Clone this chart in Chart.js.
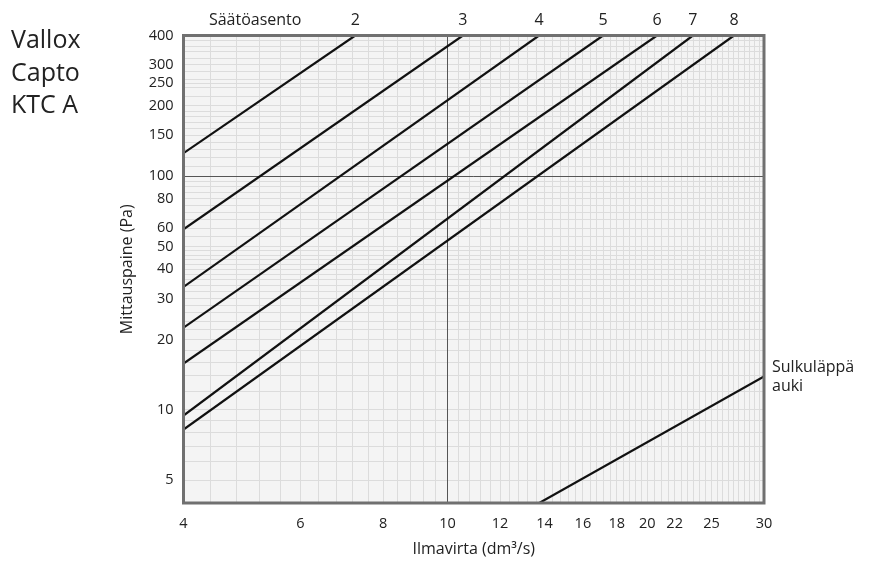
<!DOCTYPE html>
<html>
<head>
<meta charset="utf-8">
<script src="https://cdn.jsdelivr.net/npm/chart.js@4.4.1/dist/chart.umd.min.js"></script>
<style>
  html, body { margin: 0; padding: 0; background: #fff; }
</style>
</head>
<body>
<canvas id="chart" width="871" height="561"></canvas>
<script>
// ── data ──
const settingNames = ['2', '3', '4', '5', '6', '7', '8'];
const pressureAtFlow4 = [125.5, 59.3, 33.6, 22.5, 15.8, 9.46, 8.25];   // Pa at 4 dm3/s
const flowAtPressure400 = [7.26, 10.55, 13.74, 17.16, 20.69, 23.44, 27.03]; // dm3/s at 400 Pa
const damperFlow = [13.75, 30];
const damperPressure = [4, 13.9];
const xTickLabels = [4, 6, 8, 10, 12, 14, 16, 18, 20, 22, 25, 30];
const yTickLabels = [5, 10, 20, 30, 40, 50, 60, 80, 100, 150, 200, 250, 300, 400];
const captionFlow = 5.13; // where "Säätöasento" sits on the top axis
const majorX = 10, majorY = 100;

// graph paper lines (style only)
function paperLines(ranges, extra) {
  const out = [];
  ranges.forEach(([a, b, s]) => {
    for (let v = a; v <= b + 1e-9; v += s) out.push(Math.round(v * 100) / 100);
  });
  return [...new Set(out.concat(extra))].sort((p, q) => p - q);
}
const gridX = paperLines([[4, 10, 0.4], [10, 20, 0.4], [20, 30, 0.5]], xTickLabels);
const gridY = paperLines([[4, 10, 1], [10, 20, 2], [20, 50, 2], [50, 100, 5], [100, 200, 10], [200, 400, 20]], yTickLabels);

Chart.defaults.font.family = "'Open Sans'";
Chart.defaults.color = '#222';

const datasets = settingNames.map((name, i) => ({
  label: name,
  data: [{ x: 4, y: pressureAtFlow4[i] }, { x: flowAtPressure400[i], y: 400 }],
  borderColor: '#111', borderWidth: 2.2, pointRadius: 0, tension: 0
}));
datasets.push({
  label: 'Sulkuläppä auki',
  data: damperFlow.map((f, i) => ({ x: f, y: damperPressure[i] })),
  borderColor: '#111', borderWidth: 2.2, pointRadius: 0, tension: 0
});

// paper background, major lines, frame and free texts
const paper = {
  id: 'paper',
  beforeDraw(chart) {
    const { ctx, chartArea: a } = chart;
    ctx.save();
    ctx.fillStyle = '#f4f4f4';
    ctx.fillRect(a.left, a.top, a.right - a.left, a.bottom - a.top);
    ctx.restore();
  },
  beforeDatasetsDraw(chart) {
    const { ctx, chartArea: a, scales } = chart;
    const px = Math.round(scales.x.getPixelForValue(majorX)) + 0.5;
    const py = Math.round(scales.y.getPixelForValue(majorY)) + 0.5;
    ctx.save();
    ctx.strokeStyle = '#555';
    ctx.lineWidth = 1;
    ctx.beginPath();
    ctx.moveTo(px, a.top); ctx.lineTo(px, a.bottom);
    ctx.moveTo(a.left, py); ctx.lineTo(a.right, py);
    ctx.stroke();
    ctx.restore();
  },
  afterDatasetsDraw(chart) {
    const { ctx, chartArea: a, scales } = chart;
    ctx.save();
    ctx.strokeStyle = '#707070';
    ctx.lineWidth = 3;
    ctx.strokeRect(a.left, a.top, a.right - a.left, a.bottom - a.top);

    ctx.fillStyle = '#222';
    ctx.font = "25px 'Open Sans'";
    ctx.textBaseline = 'alphabetic';
    ['Vallox', 'Capto', 'KTC A'].forEach((t, i) => ctx.fillText(t, 11, 48 + i * 32.7));

    const ex = scales.x.getPixelForValue(damperFlow[1]) + 8;
    const ey = scales.y.getPixelForValue(damperPressure[1]);
    ctx.font = "16px 'Open Sans'";
    ctx.textBaseline = 'middle';
    ctx.fillText('Sulkuläppä', ex, ey - 9);
    ctx.fillText('auki', ex, ey + 10);
    ctx.restore();
  }
};

new Chart(document.getElementById('chart'), {
  type: 'line',
  data: { datasets },
  plugins: [paper],
  options: {
    responsive: false,
    animation: false,
    layout: { padding: { left: 115, right: 107, top: 0, bottom: 0 } },
    plugins: { legend: { display: false }, tooltip: { enabled: false } },
    scales: {
      x: {
        type: 'logarithmic', position: 'bottom', min: 4, max: 30,
        afterBuildTicks: s => { s.ticks = gridX.map(v => ({ value: v })); },
        afterFit: s => { s.height = 58; },
        ticks: {
          autoSkip: false, maxRotation: 0, padding: 12, font: { size: 14.5 },
          callback: v => xTickLabels.includes(v) ? String(v) : ''
        },
        grid: { drawTicks: false, color: '#dcdcdc', lineWidth: 1 },
        border: { display: false },
        title: { display: true, text: 'Ilmavirta (dm³/s)', font: { size: 16 }, padding: { top: 2, bottom: 2 } }
      },
      top: {
        type: 'logarithmic', position: 'top', min: 4, max: 30,
        afterBuildTicks: s => { s.ticks = [captionFlow].concat(flowAtPressure400).map(v => ({ value: v })); },
        afterFit: s => { s.height = 35.5; },
        ticks: {
          autoSkip: false, maxRotation: 0, padding: -3, font: { size: 16 },
          callback: (v, i) => i === 0 ? 'Säätöasento' : settingNames[i - 1]
        },
        grid: { display: false },
        border: { display: false }
      },
      y: {
        type: 'logarithmic', min: 4, max: 400,
        afterBuildTicks: s => { s.ticks = gridY.map(v => ({ value: v })); },
        afterFit: s => { s.width = 68.5; },
        ticks: {
          autoSkip: false, padding: 10, font: { size: 14.5 },
          callback: v => yTickLabels.includes(v) ? String(v) : ''
        },
        grid: { drawTicks: false, color: '#dcdcdc', lineWidth: 1 },
        border: { display: false },
        title: { display: true, text: 'Mittauspaine (Pa)', font: { size: 16 }, padding: { top: 3, bottom: 3 } }
      }
    }
  }
});
</script>
</body>
</html>
